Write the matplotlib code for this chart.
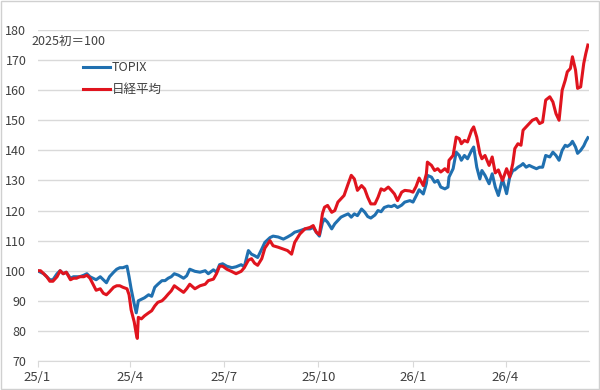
import numpy as np
import pandas as pd
import matplotlib
matplotlib.use("Agg")
import matplotlib.pyplot as plt
from matplotlib.patches import Rectangle

plt.rcParams['font.family'] = ['Noto Sans CJK JP', 'DejaVu Sans']

# days since 2025-01-01
days = [0, 3, 6, 9, 12, 15, 19, 22, 25, 28, 32, 35, 38, 41, 45, 48, 51, 54, 57, 61,
        64, 67, 70, 74, 77, 80, 83, 87, 89, 91, 94, 96, 97, 98, 101, 104, 108, 111, 114, 117,
        121, 124, 127, 130, 133, 137, 142, 145, 148, 153, 158, 163, 166, 171, 174, 177, 180, 184, 189, 193,
        198, 201, 205, 208, 211, 214, 218, 221, 226, 229, 234, 239, 243, 247, 250, 255, 260, 265, 268, 271,
        274, 277, 279, 282, 286, 289, 292, 295, 298, 302, 305, 308, 311, 315, 318, 321, 324, 328, 331, 334,
        337, 341, 344, 347, 350, 354, 357, 362, 365, 368, 371, 375, 378, 379, 383, 386, 389, 392, 396, 399,
        400, 404, 407, 410, 412, 415, 418, 422, 424, 427, 430, 432, 435, 439, 442, 445, 448, 452, 456, 459,
        462, 464, 467, 470, 472, 475, 478, 481, 485, 488, 491, 494, 498, 501, 504, 507, 510, 513, 515, 518,
        520, 523, 525, 528, 531, 533, 535]

topix = [100, 99.5, 99, 98, 97, 97, 99, 100, 99, 99.5, 97.5, 98, 98, 98, 98.5, 99, 98, 97.5, 97, 98,
         97, 96, 98, 99.5, 100.5, 101, 101, 101.5, 98, 94, 89, 86, 88, 90, 90.5, 91, 92, 91.5, 94.5, 95.5,
         96.7, 96.7, 97.5, 98, 99, 98.5, 97.5, 98.3, 100.5, 99.8, 99.5, 100, 99, 100.3, 99.5, 102, 102.3, 101.5, 101, 101.3,
         102, 101.3, 106.7, 105.5, 105, 104.4, 107.2, 109.4, 111, 111.5, 111.2, 110.5, 111.2, 112, 112.8, 113.3, 113.9, 113.9, 114.4, 112.8,
         111.5, 116, 117.2, 116.1, 113.9, 115.6, 116.7, 117.8, 118.3, 118.9, 117.8, 118.9, 118.3, 120.5, 119.5, 118, 117.5, 118.5, 120, 119.6,
         121, 121.5, 121.3, 121.8, 121, 121.8, 122.8, 123.3, 122.8, 124.8, 126.9, 125.5, 129, 131.7, 131.1, 129.4, 130, 127.8, 127.2, 127.8,
         131.1, 133.9, 139.4, 138.3, 136.7, 138.3, 137.2, 140, 141.1, 134.4, 130.5, 133.3, 131.7, 128.9, 132.2, 127.8, 125, 130.5, 125.6, 131.1,
         133.3, 133.5, 134.4, 135, 135.6, 134.4, 135, 134.5, 133.9, 134.4, 134.4, 138.3, 137.8, 139.4, 138.3, 136.7, 140, 141.7, 141.3, 142,
         143, 141.1, 139, 140, 141.5, 143, 144.2]

nikkei = [100, 100, 99, 98, 96.5, 96.5, 98, 100, 99, 99.5, 97, 97.5, 97.5, 98, 98, 98.5, 97.5, 95.5, 93.5, 94,
          92.5, 92, 93, 94.5, 95, 95, 94.5, 94, 92, 87, 83, 79, 77.5, 84.5, 84, 85, 86, 86.7, 88.3, 89.5,
          90, 91, 92.2, 93.3, 95, 94, 92.8, 94, 95.5, 94, 95, 95.5, 96.7, 97.2, 99, 101.5, 101.5, 100.5, 99.7, 99,
          99.8, 101, 103.5, 104, 102.5, 101.8, 104, 107.5, 110, 108.3, 107.8, 107.2, 106.7, 105.5, 109.4, 112.2, 113.9, 114.4, 115, 112.8,
          112, 119, 121.1, 121.7, 119.4, 120, 122.8, 123.9, 125, 128.9, 131.7, 130.5, 126.7, 128.3, 127.2, 124.4, 122.2, 122.2, 124.4, 127.2,
          126.7, 127.8, 126.7, 125.5, 123.3, 126.1, 126.7, 126.5, 126.1, 128, 130.8, 128.3, 132.2, 136.1, 135, 133.3, 133.9, 132.8, 133.9, 132.8,
          136.7, 138.3, 144.4, 143.9, 142.2, 143.3, 142.8, 146.7, 147.8, 144.4, 139, 137.2, 138.3, 135, 137.8, 132.5, 133.5, 130, 133.9, 131.1,
          135.6, 140.6, 142.2, 141.7, 146.7, 147.8, 148.9, 150, 150.6, 148.9, 149.4, 156.7, 157.8, 156.1, 152.2, 150, 160, 163.3, 166.1, 167.2,
          171.1, 166.7, 160.6, 161.1, 168.9, 172.2, 175]

tick_labels = ['25/1', '25/4', '25/7', '25/10', '26/1', '26/4']
tick_dates = ['2025-01-01', '2025-04-01', '2025-07-01', '2025-10-01', '2026-01-01', '2026-04-01']

dates = pd.Timestamp('2025-01-01') + pd.to_timedelta(days, unit='D')

fig = plt.figure(figsize=(6, 3.9), dpi=100)
ax = fig.add_axes([0.0625, 0.0744, 0.919, 0.8487])

ax.plot(dates, topix, color='#2070b0', lw=2.2, label='TOPIX', zorder=3)
ax.plot(dates, nikkei, color='#e0141e', lw=2.2, label='日経平均', zorder=4)

ax.set_ylim(70, 180)
ax.set_yticks(np.arange(70, 181, 10))
ax.set_xlim(pd.Timestamp('2025-01-01'), pd.Timestamp('2025-01-01') + pd.Timedelta(days=536))
ax.set_xticks(pd.to_datetime(tick_dates))
ax.set_xticklabels(tick_labels)

ax.grid(axis='y', color='#d9d9d9', lw=1)
ax.set_axisbelow(True)
for s in ['top', 'right', 'left']:
    ax.spines[s].set_visible(False)
ax.spines['bottom'].set_color('#d9d9d9')
ax.tick_params(axis='y', length=0, pad=8, labelsize=9, labelcolor='#404040')
ax.tick_params(axis='x', length=4, color='#d9d9d9', pad=3, labelsize=9.5, labelcolor='#404040')

leg = ax.legend(loc='upper left', bbox_to_anchor=(0.062, 0.94), frameon=False,
                fontsize=9, handlelength=2.2, handletextpad=0.1, labelspacing=0.75)
for t in leg.get_texts():
    t.set_color('#404040')

fig.text(31 / 600, 1 - 41 / 390, '2025初＝100', fontsize=9, color='#404040', va='center')

fig.patches.append(Rectangle((0.002, 0.003), 0.996, 0.994, transform=fig.transFigure,
                             fill=False, edgecolor='#d0d0d0', lw=1))

fig.savefig('out.png', dpi=100)
